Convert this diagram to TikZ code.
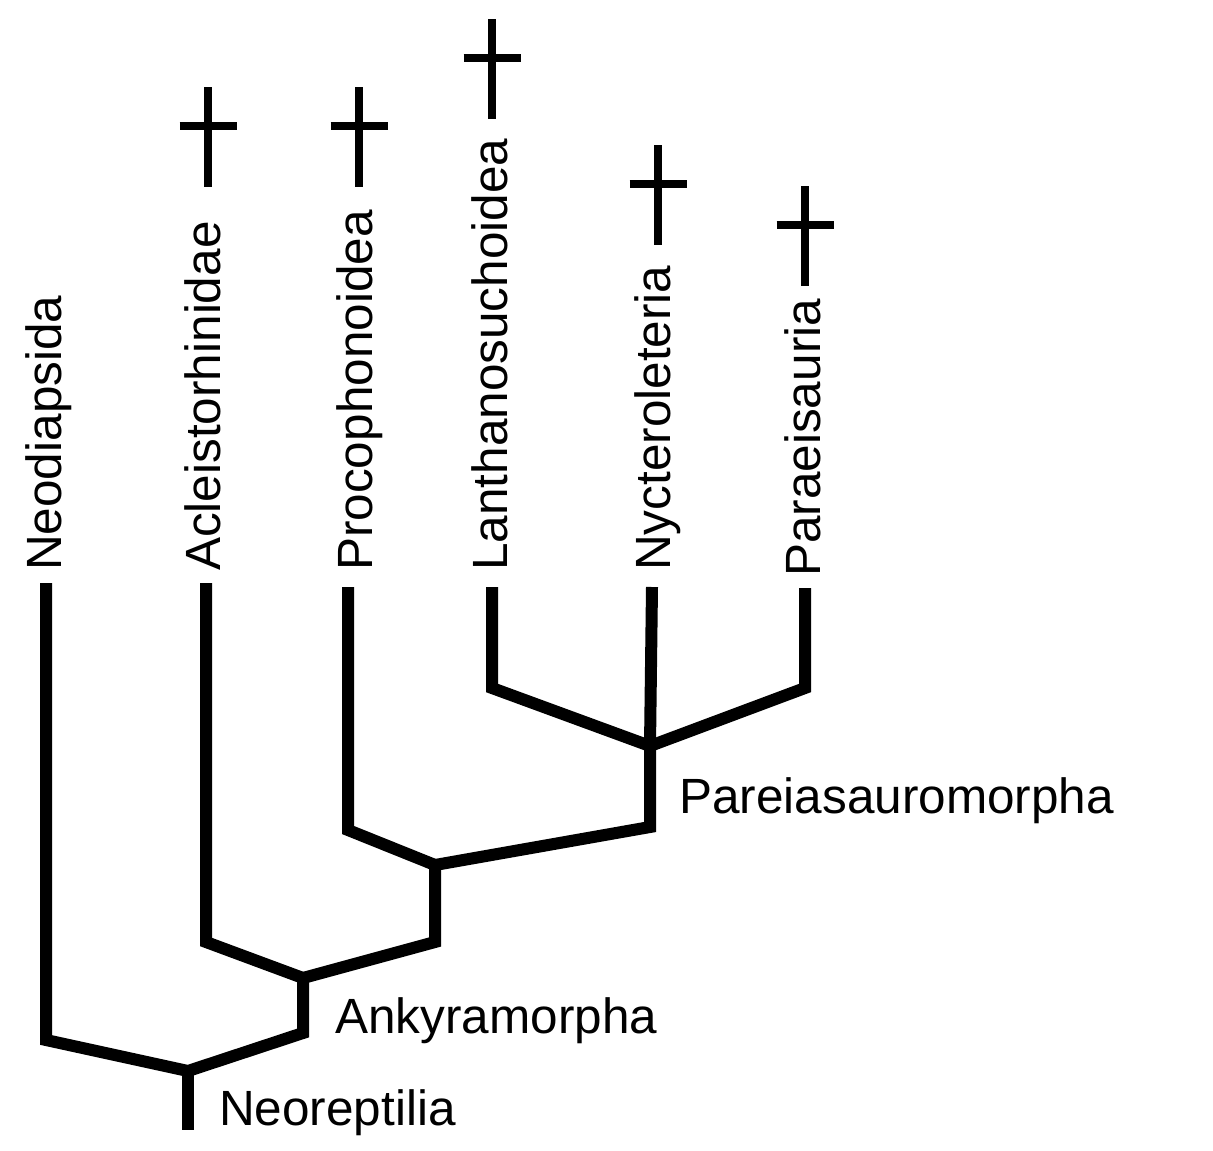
\documentclass[tikz,border=0pt]{standalone}
\usepackage{fontspec}
\setmainfont{Liberation Sans}
\usetikzlibrary{arrows}

\begin{document}
\begin{tikzpicture}[x=1pt,y=-1pt,
  taxon/.style={rotate=90,anchor=base west,inner sep=0pt,font=\fontsize{49.5}{50}\selectfont},
  clade/.style={anchor=base west,inner sep=0pt,font=\fontsize{49.5}{50}\selectfont},
  branch/.style={line width=12pt,line join=miter},
  cross/.style={line width=8pt}]
  \useasboundingbox (0,0) rectangle (1213,1151);
  % taxa
  \node[taxon] (neo)  at (61,571)  {Neodiapsida};
  \node[taxon] (acl)  at (220,571) {Acleistorhinidae};
  \node[taxon] (proc) at (372,571) {Procophonoidea};
  \node[taxon] (lan)  at (507,571) {Lanthanosuchoidea};
  \node[taxon] (nyc)  at (670,571) {Nycteroleteria};
  \node[taxon] (par)  at (820,577) {Paraeisauria};
  % clades
  \node[clade] (pareia) at (679,813)  {Pareiasauromorpha};
  \node[clade] (anky)   at (335,1033) {Ankyramorpha};
  \node[clade] (neorep) at (219,1125) {Neoreptilia};
  % tips and bends
  \coordinate (t0) at (46,583);  \coordinate (b0) at (46,1040);
  \coordinate (t1) at (206,583); \coordinate (b1) at (206,942);
  \coordinate (t2) at (348,587); \coordinate (b2) at (348,830);
  \coordinate (t3) at (492,587); \coordinate (b3) at (492,688);
  \coordinate (t4) at (652,587);
  \coordinate (t5) at (805,588); \coordinate (b5) at (805,688);
  % joints
  \coordinate (jpar)  at (650,746); \coordinate (spar)  at (650,827);
  \coordinate (jproc) at (435,865); \coordinate (sproc) at (435,942);
  \coordinate (janky) at (303,978); \coordinate (sanky) at (303,1033);
  \coordinate (jneo)  at (188,1071); \coordinate (root) at (188,1130);
  \draw[branch] (t0) -- (b0) -- (jneo) -- (sanky) -- (janky) -- (sproc)
    -- (jproc) -- (spar) -- (jpar) -- (b5) -- (t5);
  \draw[branch] (t1) -- (b1) -- (janky);
  \draw[branch] (t2) -- (b2) -- (jproc);
  \draw[branch] (t3) -- (b3) -- (jpar);
  \draw[branch] (t4) -- (jpar);
  \draw[branch] (jneo) -- (root);
  % extinct
  \foreach \x/\y in {208/87, 359/87, 492/19, 658/145, 805/186}{
    \draw[cross] (\x,\y) -- (\x,\y+100);
    \draw[cross] (\x-28.5,\y+39) -- (\x+28.5,\y+39);
  }
\end{tikzpicture}
\end{document}
